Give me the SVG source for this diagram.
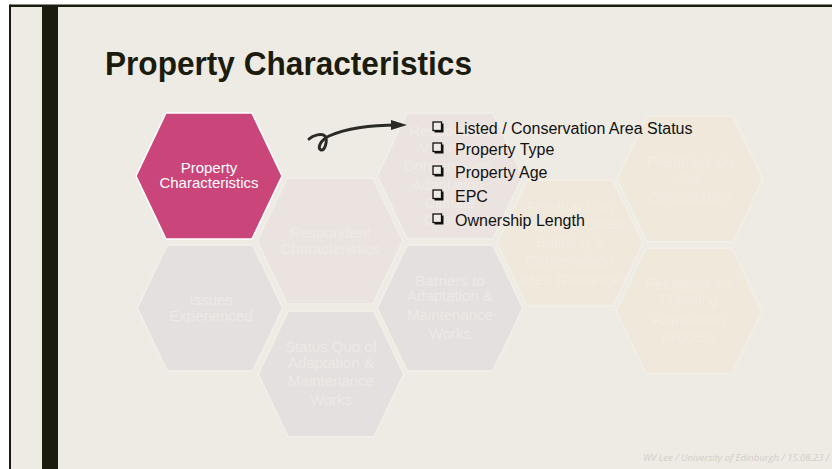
<svg xmlns="http://www.w3.org/2000/svg" width="832" height="469" viewBox="0 0 832 469">
<defs>
<style>
.hx{font-family:"Liberation Sans",Arial,sans-serif;font-size:15px;text-anchor:middle}
.pk{fill:#EBE3DF;stroke:#F1EEE7;stroke-width:2}
.gr{fill:#E5E0E0;stroke:#F1EEE7;stroke-width:2}
.yl{fill:#EFE8DB;stroke:#F1EEE7;stroke-width:2}
.tpk{fill:#EFEAE5}
.tgr{fill:#EDE9E5}
.tyl{fill:#F2EDE3}
.li{font-family:"Liberation Sans",Arial,sans-serif;font-size:16px;fill:#111111}
</style>
<polygon id="hex" points="-43,-63 43,-63 73,0 43,63 -43,63 -73,0"/>
<g id="box">
<rect x="1.5" y="1.5" width="9" height="9" fill="#111111"/>
<rect x="0" y="0" width="8.5" height="8.5" fill="#EEEBE4" stroke="#111111" stroke-width="1.3"/>
</g>
</defs>
<rect x="0" y="0" width="832" height="469" fill="#FFFFFF"/>
<rect x="10" y="5" width="822" height="464" fill="#EEEBE4"/>
<rect x="10" y="4.5" width="822" height="2.5" fill="#1B1B12"/>
<rect x="9" y="4.5" width="2" height="464.5" fill="#1B1B12"/>
<rect x="42" y="6" width="16" height="463" fill="#1B1B0E"/>
<text x="105" y="75" font-family="'Liberation Sans',Arial,sans-serif" font-size="33" font-weight="bold" fill="#1B1B0E" textLength="367" lengthAdjust="spacingAndGlyphs">Property Characteristics</text>

<g id="n-respondent-characteristics">
<use href="#hex" x="330" y="241" class="pk"/>
<text class="hx tpk" x="330" y="238">Respondent</text>
<text class="hx tpk" x="330" y="254">Characteristics</text>
</g>
<g id="n-issues-experienced">
<use href="#hex" x="210" y="308" class="gr"/>
<text class="hx tgr" x="211" y="305">Issues</text>
<text class="hx tgr" x="211" y="321">Experienced</text>
</g>
<g id="n-status-quo">
<use href="#hex" x="331" y="374" class="gr"/>
<text class="hx tgr" x="331" y="352">Status Quo of</text>
<text class="hx tgr" x="331" y="368">Adaptation &amp;</text>
<text class="hx tgr" x="331" y="386">Maintenance</text>
<text class="hx tgr" x="331" y="405">Works</text>
</g>
<g id="n-barriers">
<use href="#hex" x="450" y="308" class="gr"/>
<text class="hx tgr" x="450" y="286">Barriers to</text>
<text class="hx tgr" x="450" y="301">Adaptation &amp;</text>
<text class="hx tgr" x="450" y="320">Maintenance</text>
<text class="hx tgr" x="450" y="339">Works</text>
</g>
<g id="n-respondent-views">
<use href="#hex" x="450" y="176" class="pk"/>
<text class="hx tpk" x="450" y="136">Respondent</text>
<text class="hx tpk" x="450" y="153">Views on</text>
<text class="hx tpk" x="450" y="171">Conservation,</text>
<text class="hx tpk" x="450" y="190">Adaptation,</text>
<text class="hx tpk" x="450" y="208">Climate</text>
<text class="hx tpk" x="450" y="225">Change</text>
</g>
<g id="n-feedback-guidance">
<use href="#hex" x="570" y="243" class="yl"/>
<text class="hx tyl" x="570" y="212">Feedback on</text>
<text class="hx tyl" x="570" y="229">Proposed Listed</text>
<text class="hx tyl" x="570" y="247">Building &amp;</text>
<text class="hx tyl" x="570" y="266">Conservation</text>
<text class="hx tyl" x="570" y="285">Area Guidance</text>
</g>
<g id="n-feedback-consultation">
<use href="#hex" x="690" y="179" class="yl"/>
<text class="hx tyl" x="690" y="167">Feedback on</text>
<text class="hx tyl" x="690" y="183">this</text>
<text class="hx tyl" x="690" y="202">Consultation</text>
</g>
<g id="n-feedback-planning">
<use href="#hex" x="689" y="311" class="yl"/>
<text class="hx tyl" x="689" y="289">Feedback on</text>
<text class="hx tyl" x="689" y="305">Planning</text>
<text class="hx tyl" x="689" y="324">Application</text>
<text class="hx tyl" x="689" y="342">Process</text>
</g>
<g id="n-property-characteristics">
<use href="#hex" x="209" y="176" fill="#C9457A" stroke="#FFFFFF" stroke-width="1.5"/>
<text class="hx" x="209" y="173" fill="#FFFFFF">Property</text>
<text class="hx" x="209" y="188" fill="#FFFFFF">Characteristics</text>
</g>

<g id="connectors">
<path d="M309,139 C313,135 322,133 325,136 C328,140 325,151 321,150 C317,149 320,140 329,136 C345,129 365,125 398,125" fill="none" stroke="#2B2B26" stroke-width="3" stroke-linecap="round" stroke-linejoin="round"/>
<polygon points="391,120 407,125 391,130" fill="#2B2B26"/>
</g>

<g id="n-list">
<use href="#box" x="433" y="122"/>
<text class="li" x="455" y="134">Listed / Conservation Area Status</text>
<use href="#box" x="433" y="143"/>
<text class="li" x="455" y="155">Property Type</text>
<use href="#box" x="433" y="166"/>
<text class="li" x="455" y="178">Property Age</text>
<use href="#box" x="433" y="190"/>
<text class="li" x="455" y="202">EPC</text>
<use href="#box" x="433" y="214"/>
<text class="li" x="455" y="226">Ownership Length</text>
</g>

<text x="643" y="461" font-family="'Open Sans','Liberation Sans',sans-serif" font-size="9.5" font-style="italic" fill="#D2CEC7">WV Lee / University of Edinburgh / 15.08.23 / 11</text>
</svg>
